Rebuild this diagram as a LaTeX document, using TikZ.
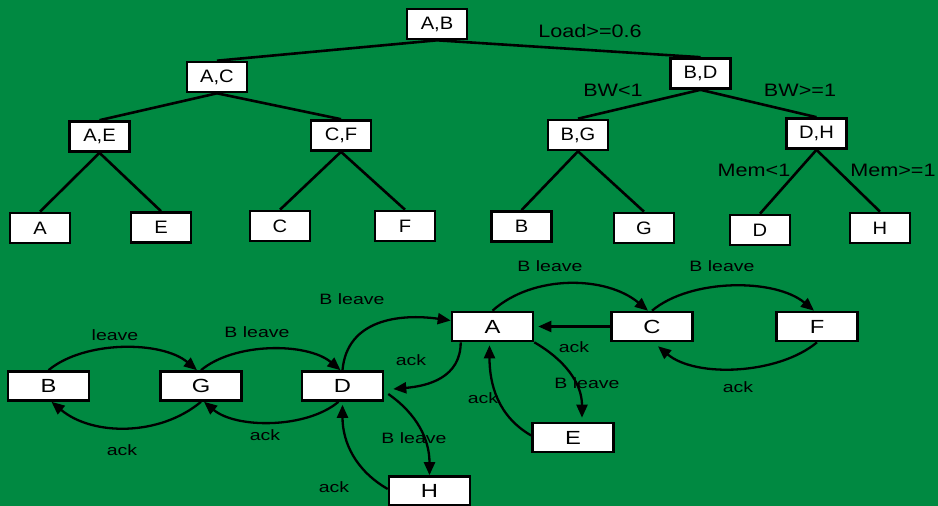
\documentclass[tikz,border=0pt]{standalone}
\usepackage{fontspec}
\setmainfont{Liberation Sans}
\newfontfamily\treeboxfont[FakeStretch=1.12]{Liberation Sans}
\newfontfamily\treelabfont[FakeStretch=1.2]{Liberation Sans}
\newfontfamily\gboxfont[FakeStretch=1.25]{Liberation Sans}
\newfontfamily\glabfont[FakeStretch=1.3]{Liberation Sans}
\usetikzlibrary{arrows.meta}
\definecolor{bggreen}{RGB}{0,137,65}
\begin{document}
\begin{tikzpicture}[x=1pt,y=1pt,
  tbox/.style={draw=black,fill=white,line width=2.6pt,minimum width=60pt,minimum height=30pt,inner sep=0pt,font=\treeboxfont\fontsize{18}{20}\selectfont},
  gbox/.style={draw=black,fill=white,line width=2.6pt,minimum width=81pt,minimum height=29pt,inner sep=0pt,font=\gboxfont\fontsize{19}{21}\selectfont},
  tlab/.style={inner sep=0pt,font=\treelabfont\fontsize{18}{20}\selectfont},
  glab/.style={inner sep=0pt,font=\glabfont\fontsize{15}{17}\selectfont},
  tedge/.style={line width=2.6pt},
  gedge/.style={line width=2.3pt,-{Triangle[length=13pt,width=11pt]}}]
\useasboundingbox (0,0) rectangle (938,-506);
\fill[bggreen] (0,0) rectangle (938,-506);

% ---------- tree ----------
\node[tbox] (AB) at (437,-24) {A,B};
\node[tbox] (AC) at (217,-77) {A,C};
\node[tbox] (BD) at (700.5,-73.5) {B,D};
\node[tbox] (AE) at (99.5,-136.5) {A,E};
\node[tbox] (CF) at (341,-135.5) {C,F};
\node[tbox] (BG) at (578,-135) {B,G};
\node[tbox] (DH) at (816.5,-133.5) {D,H};
\node[tbox] (tA) at (40,-228) {A};
\node[tbox] (tE) at (161,-227.5) {E};
\node[tbox] (tC) at (280,-226) {C};
\node[tbox] (tF) at (405,-226) {F};
\node[tbox] (tB) at (521.5,-226.5) {B};
\node[tbox] (tG) at (644,-228) {G};
\node[tbox] (tD) at (760,-230) {D};
\node[tbox] (tH) at (880,-228) {H};

\draw[tedge] (AB.south) -- (AC.north);
\draw[tedge] (AB.south) -- (BD.north);
\draw[tedge] (AC.south) -- (AE.north);
\draw[tedge] (AC.south) -- (CF.north);
\draw[tedge] (BD.south) -- (BG.north);
\draw[tedge] (BD.south) -- (DH.north);
\draw[tedge] (AE.south) -- (tA.north);
\draw[tedge] (AE.south) -- (tE.north);
\draw[tedge] (CF.south) -- (tC.north);
\draw[tedge] (CF.south) -- (tF.north);
\draw[tedge] (BG.south) -- (tB.north);
\draw[tedge] (BG.south) -- (tG.north);
\draw[tedge] (DH.south) -- (tD.north);
\draw[tedge] (DH.south) -- (tH.north);

\node[tlab] (l1) at (590,-31) {Load>=0.6};
\node[tlab] (l2) at (613,-90) {BW<1};
\node[tlab] (l3) at (800,-90) {BW>=1};
\node[tlab] (l4) at (754,-170) {Mem<1};
\node[tlab] (l5) at (893,-170) {Mem>=1};

% ---------- graph ----------
\node[gbox] (B) at (48.5,-386) {B};
\node[gbox] (G) at (201,-386) {G};
\node[gbox] (D) at (342.5,-386) {D};
\node[gbox] (H) at (429.5,-491) {H};
\node[gbox] (A) at (492.5,-326.5) {A};
\node[gbox] (C) at (652,-326.5) {C};
\node[gbox] (F) at (817,-326.5) {F};
\node[gbox] (E) at (573,-437.5) {E};

\draw[gedge] (B.north) to[out=40,in=140,looseness=0.8] ([xshift=-4pt]G.north);
\draw[gedge] (G.south) to[out=-140,in=-40,looseness=0.92] ([xshift=3pt]B.south);
\draw[gedge] (G.north) to[out=40,in=140,looseness=0.8] ([xshift=-2pt]D.north);
\draw[gedge] ([xshift=-4pt]D.south) to[out=-140,in=-40,looseness=0.8] ([xshift=3pt]G.south);
\draw[gedge] (D.north) to[out=85,in=172,looseness=1.1] ([yshift=6pt]A.west);
\draw[gedge] ([xshift=10pt]A.south west) to[out=-90,in=5,looseness=1.1] ([xshift=9pt,yshift=-3pt]D.east);
\draw[gedge] ([xshift=4pt,yshift=-8pt]D.east) to[out=-35,in=90,looseness=1.0] (H.north);
\draw[gedge] ([yshift=2pt]H.west) to[out=150,in=-90,looseness=1.0] ([yshift=-3pt]D.south);
\draw[gedge] (A.north) to[out=42,in=140,looseness=0.9] ([xshift=-4pt]C.north);
\draw[gedge] (C.west) -- ([xshift=4pt]A.east);
\draw[gedge] (C.north) to[out=40,in=140,looseness=0.8] ([xshift=-3pt]F.north);
\draw[gedge] (F.south) to[out=-140,in=-40,looseness=0.8] ([xshift=6pt,yshift=-4pt]C.south);
\draw[gedge] (A.south east) to[out=-30,in=90,looseness=1.0] ([xshift=9pt,yshift=4pt]E.north);
\draw[gedge] ([yshift=2pt]E.west) to[out=150,in=-90,looseness=1.0] ([xshift=-3pt,yshift=-3pt]A.south);

\node[glab] (g1) at (115,-335) {leave};
\node[glab] (g2) at (122,-450) {ack};
\node[glab] (g3) at (257,-332) {B leave};
\node[glab] (g4) at (265,-435) {ack};
\node[glab] (g5) at (352,-299) {B leave};
\node[glab] (g6) at (411,-360) {ack};
\node[glab] (g7) at (414,-438) {B leave};
\node[glab] (g8) at (334,-487) {ack};
\node[glab] (g9) at (550,-266) {B leave};
\node[glab] (g10) at (722,-266) {B leave};
\node[glab] (g11) at (574,-347) {ack};
\node[glab] (g12) at (738,-387) {ack};
\node[glab] (g13) at (587,-383) {B leave};
\node[glab] (g14) at (483,-398) {ack};
\end{tikzpicture}
\end{document}
